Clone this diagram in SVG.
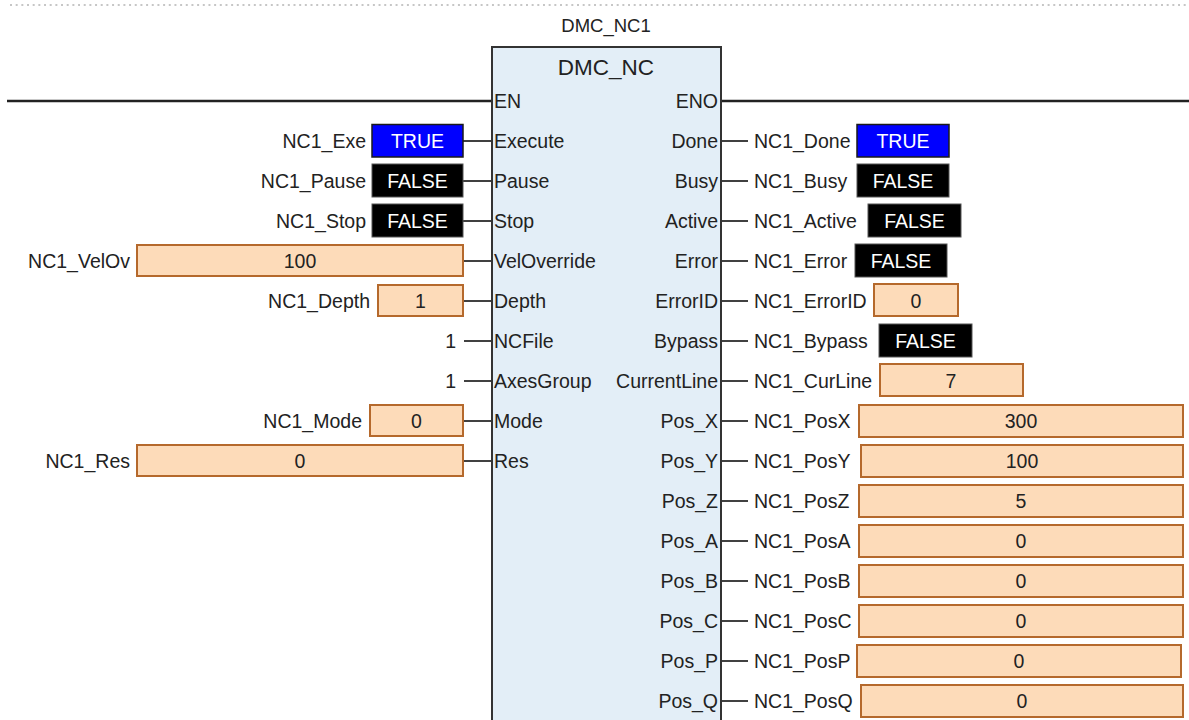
<svg xmlns="http://www.w3.org/2000/svg" width="1189" height="720" viewBox="0 0 1189 720">
<style>
text{font-family:"Liberation Sans",Arial,sans-serif;font-size:19.5px;fill:#222}
.r{text-anchor:end}
.m{text-anchor:middle}
.w{fill:#fff}
.blue{fill:#0000ff;stroke:#1a1a1a;stroke-width:1.5}
.blk{fill:#000;stroke:#555;stroke-width:1}
.org{fill:#fddbb9;stroke:#b5692c;stroke-width:2}
.ln{stroke:#111;stroke-width:1.6;fill:none}
.rail{stroke:#222;stroke-width:2.4;fill:none}
</style>
<line x1="10" y1="5" x2="1189" y2="5" stroke="#b4b4b4" stroke-width="1.5" stroke-dasharray="2 3.67"/>
<g id="connectors">
<line class="rail" x1="7" y1="101" x2="491" y2="101"/>
<line class="rail" x1="721" y1="101" x2="1189" y2="101"/>
<line class="ln" x1="463" y1="141" x2="491" y2="141"/>
<line class="ln" x1="463" y1="181" x2="491" y2="181"/>
<line class="ln" x1="463" y1="221" x2="491" y2="221"/>
<line class="ln" x1="463" y1="261" x2="491" y2="261"/>
<line class="ln" x1="463" y1="301" x2="491" y2="301"/>
<line class="ln" x1="464" y1="341" x2="491" y2="341"/>
<line class="ln" x1="464" y1="381" x2="491" y2="381"/>
<line class="ln" x1="463" y1="421" x2="491" y2="421"/>
<line class="ln" x1="463" y1="461" x2="491" y2="461"/>
<line class="ln" x1="721" y1="141" x2="748" y2="141"/>
<line class="ln" x1="721" y1="181" x2="748" y2="181"/>
<line class="ln" x1="721" y1="221" x2="748" y2="221"/>
<line class="ln" x1="721" y1="261" x2="748" y2="261"/>
<line class="ln" x1="721" y1="301" x2="748" y2="301"/>
<line class="ln" x1="721" y1="341" x2="748" y2="341"/>
<line class="ln" x1="721" y1="381" x2="748" y2="381"/>
<line class="ln" x1="721" y1="421" x2="748" y2="421"/>
<line class="ln" x1="721" y1="461" x2="748" y2="461"/>
<line class="ln" x1="721" y1="501" x2="748" y2="501"/>
<line class="ln" x1="721" y1="541" x2="748" y2="541"/>
<line class="ln" x1="721" y1="581" x2="748" y2="581"/>
<line class="ln" x1="721" y1="621" x2="748" y2="621"/>
<line class="ln" x1="721" y1="661" x2="748" y2="661"/>
<line class="ln" x1="721" y1="701" x2="748" y2="701"/>
</g>
<g id="block">
<text class="m" x="606" y="32" style="font-size:18.5px">DMC_NC1</text>
<rect x="492" y="47" width="229" height="690" fill="#e3eef7" stroke="#333" stroke-width="2"/>
<text class="m" x="606" y="75" style="font-size:22.5px">DMC_NC</text>
<text x="494" y="108">EN</text>
<text x="494" y="148">Execute</text>
<text x="494" y="188">Pause</text>
<text x="494" y="228">Stop</text>
<text x="494" y="268">VelOverride</text>
<text x="494" y="308">Depth</text>
<text x="494" y="348">NCFile</text>
<text x="494" y="388">AxesGroup</text>
<text x="494" y="428">Mode</text>
<text x="494" y="468">Res</text>
<text class="r" x="718" y="108">ENO</text>
<text class="r" x="718" y="148">Done</text>
<text class="r" x="718" y="188">Busy</text>
<text class="r" x="718" y="228">Active</text>
<text class="r" x="718" y="268">Error</text>
<text class="r" x="718" y="308">ErrorID</text>
<text class="r" x="718" y="348">Bypass</text>
<text class="r" x="718" y="388">CurrentLine</text>
<text class="r" x="718" y="428">Pos_X</text>
<text class="r" x="718" y="468">Pos_Y</text>
<text class="r" x="718" y="508">Pos_Z</text>
<text class="r" x="718" y="548">Pos_A</text>
<text class="r" x="718" y="588">Pos_B</text>
<text class="r" x="718" y="628">Pos_C</text>
<text class="r" x="718" y="668">Pos_P</text>
<text class="r" x="718" y="708">Pos_Q</text>
</g>
<g id="in-exe"><text class="r" x="366" y="148">NC1_Exe</text><rect class="blue" x="372" y="124.5" width="91" height="32.5"/><text class="m w" x="417.5" y="148">TRUE</text></g>
<g id="in-pause"><text class="r" x="366" y="188">NC1_Pause</text><rect class="blk" x="372" y="164" width="91" height="33"/><text class="m w" x="417.5" y="188">FALSE</text></g>
<g id="in-stop"><text class="r" x="366" y="228">NC1_Stop</text><rect class="blk" x="372" y="204" width="91" height="33"/><text class="m w" x="417.5" y="228">FALSE</text></g>
<g id="in-velov"><text class="r" x="130" y="268">NC1_VelOv</text><rect class="org" x="137" y="245" width="326" height="31"/><text class="m" x="300" y="268">100</text></g>
<g id="in-depth"><text class="r" x="370" y="308">NC1_Depth</text><rect class="org" x="378" y="285" width="85" height="31"/><text class="m" x="420.5" y="308">1</text></g>
<g id="in-ncfile"><text class="r" x="456" y="348">1</text></g>
<g id="in-axes"><text class="r" x="456" y="388">1</text></g>
<g id="in-mode"><text class="r" x="362" y="428">NC1_Mode</text><rect class="org" x="370" y="405" width="93" height="31"/><text class="m" x="416.5" y="428">0</text></g>
<g id="in-res"><text class="r" x="130" y="468">NC1_Res</text><rect class="org" x="137" y="445" width="326" height="31"/><text class="m" x="300" y="468">0</text></g>
<g id="out-done"><text x="754" y="148">NC1_Done</text><rect class="blue" x="857" y="124.5" width="92" height="32.5"/><text class="m w" x="903" y="148">TRUE</text></g>
<g id="out-busy"><text x="754" y="188">NC1_Busy</text><rect class="blk" x="857" y="164" width="92" height="33"/><text class="m w" x="903" y="188">FALSE</text></g>
<g id="out-active"><text x="754" y="228">NC1_Active</text><rect class="blk" x="868" y="204" width="93" height="33"/><text class="m w" x="914.5" y="228">FALSE</text></g>
<g id="out-error"><text x="754" y="268">NC1_Error</text><rect class="blk" x="855" y="244" width="92" height="33"/><text class="m w" x="901" y="268">FALSE</text></g>
<g id="out-errorid"><text x="754" y="308">NC1_ErrorID</text><rect class="org" x="874" y="284" width="84" height="32"/><text class="m" x="916" y="308">0</text></g>
<g id="out-bypass"><text x="754" y="348">NC1_Bypass</text><rect class="blk" x="879" y="324" width="93" height="33"/><text class="m w" x="925.5" y="348">FALSE</text></g>
<g id="out-curline"><text x="754" y="388">NC1_CurLine</text><rect class="org" x="880" y="364" width="143" height="32"/><text class="m" x="951" y="388">7</text></g>
<g id="out-posx"><text x="754" y="428">NC1_PosX</text><rect class="org" x="859" y="405" width="324" height="32"/><text class="m" x="1021" y="428">300</text></g>
<g id="out-posy"><text x="754" y="468">NC1_PosY</text><rect class="org" x="861" y="445" width="322" height="32"/><text class="m" x="1022" y="468">100</text></g>
<g id="out-posz"><text x="754" y="508">NC1_PosZ</text><rect class="org" x="859" y="485" width="324" height="32"/><text class="m" x="1021" y="508">5</text></g>
<g id="out-posa"><text x="754" y="548">NC1_PosA</text><rect class="org" x="859" y="525" width="324" height="32"/><text class="m" x="1021" y="548">0</text></g>
<g id="out-posb"><text x="754" y="588">NC1_PosB</text><rect class="org" x="859" y="565" width="324" height="32"/><text class="m" x="1021" y="588">0</text></g>
<g id="out-posc"><text x="754" y="628">NC1_PosC</text><rect class="org" x="859" y="605" width="324" height="32"/><text class="m" x="1021" y="628">0</text></g>
<g id="out-posp"><text x="754" y="668">NC1_PosP</text><rect class="org" x="857" y="645" width="324" height="32"/><text class="m" x="1019" y="668">0</text></g>
<g id="out-posq"><text x="754" y="708">NC1_PosQ</text><rect class="org" x="861" y="685" width="322" height="32"/><text class="m" x="1022" y="708">0</text></g>
</svg>
